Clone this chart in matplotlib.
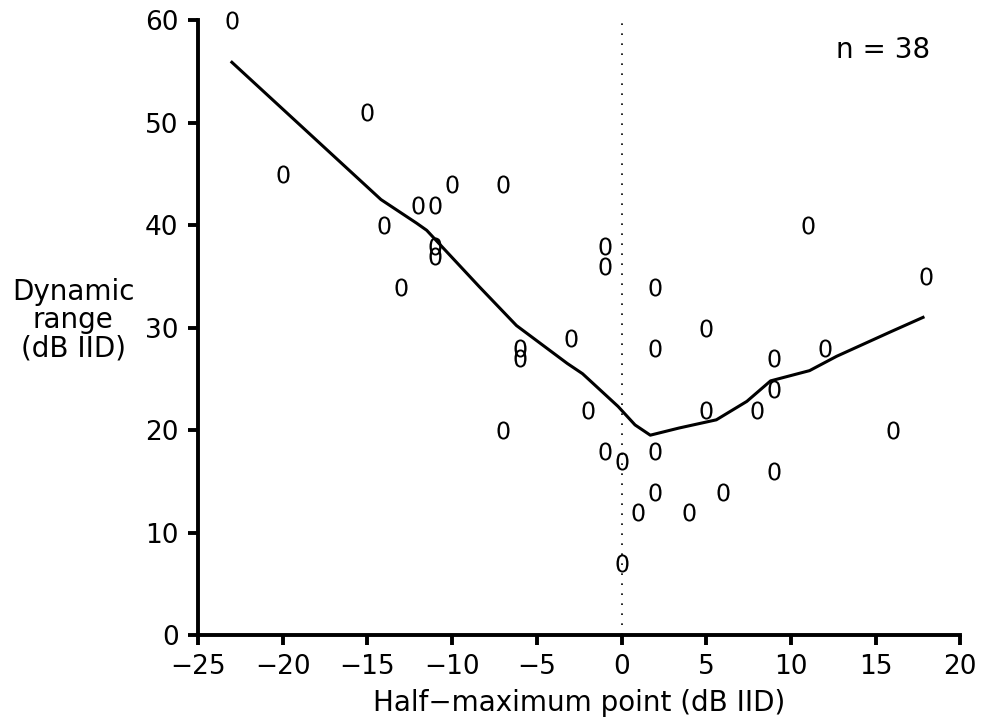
import numpy as np
import matplotlib
matplotlib.use('Agg')
import matplotlib.pyplot as plt

# scatter points (half-maximum point, dynamic range)
half_max = [-23, -20, -15, -14, -13, -12, -11, -11, -11, -10, -7, -7, -6, -6,
            -3, -2, -1, -1, -1, 0, 0, 1, 2, 2, 2, 2, 4, 5, 5, 6, 8, 9, 9, 9,
            11, 12, 16, 18]
dyn_range = [60, 45, 51, 40, 34, 42, 42, 38, 37, 44, 44, 20, 28, 27,
             29, 22, 38, 36, 18, 17, 7, 12, 34, 28, 18, 14, 12, 30, 22, 14, 22, 27, 24, 16,
             40, 28, 20, 35]

# smoothed trend line
trend_x = [-23, -14.2, -12.1, -11.5, -8.4, -6.2, -3.2, -2.3, -0.2, 0.8, 1.7,
           3.4, 5.6, 7.4, 8.8, 11.1, 12.7, 15.9, 17.8]
trend_y = [55.9, 42.5, 40.2, 39.5, 34.0, 30.2, 26.5, 25.5, 22.3, 20.5, 19.5,
           20.2, 21.0, 22.8, 24.8, 25.8, 27.2, 29.6, 31.0]

fig = plt.figure(figsize=(9.9, 7.24), dpi=100)
ax = fig.add_axes([0.2, 0.123, 0.77, 0.849])

ax.plot(trend_x, trend_y, color='black', lw=2.2)
ax.plot(half_max, dyn_range, ls='none', marker='$0$', markersize=13,
        color='black', markeredgewidth=0, clip_on=False)
ax.plot([0, 0], [0, 60], ls=(0, (1, 5)), color='black', lw=1.2)

ax.set_xlim(-25, 20)
ax.set_ylim(0, 60)
ax.set_xticks(np.arange(-25, 21, 5))
ax.set_yticks(np.arange(0, 61, 10))
ax.set_xticklabels([str(v).replace('-', '\u2212') for v in range(-25, 21, 5)])

for s in ['top', 'right']:
    ax.spines[s].set_visible(False)
for s in ['left', 'bottom']:
    ax.spines[s].set_linewidth(2.8)
ax.tick_params(direction='out', length=7, width=2.8, labelsize=19, pad=7)

ax.set_xlabel('Half\u2212maximum point (dB IID)', fontsize=20, labelpad=6)
fig.text(0.074, 0.558, 'Dynamic\nrange\n(dB IID)', fontsize=20, ha='center',
         va='center', linespacing=1.0)
ax.text(0.96, 0.975, 'n = 38', transform=ax.transAxes, fontsize=20,
        ha='right', va='top')

fig.savefig('out.png', dpi=100)
